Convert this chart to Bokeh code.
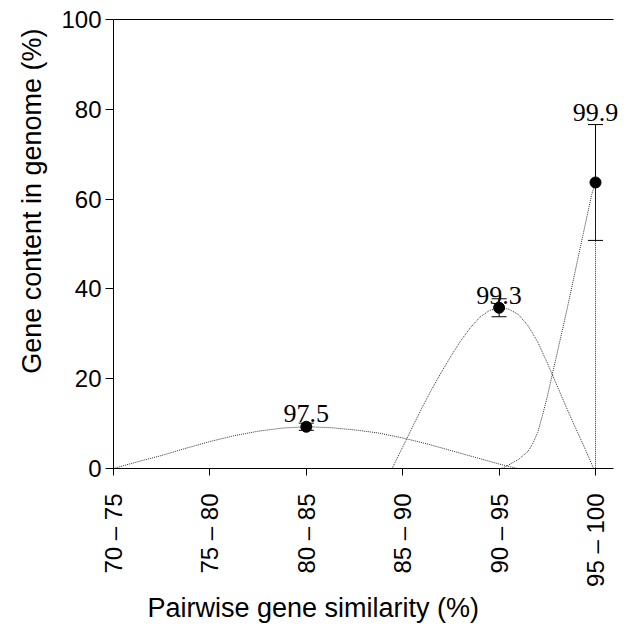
import math
from bokeh.plotting import figure
from bokeh.models import (ColumnDataSource, Whisker, TeeHead, Label, Title,
                          FixedTicker, LinearAxis, Range1d)
from bokeh.embed import file_html
from bokeh.resources import INLINE

# ---- data ----
categories = ["70 – 75", "75 – 80", "80 – 85", "85 – 90", "90 – 95", "95 – 100"]

point_cat = ["80 – 85", "90 – 95", "95 – 100"]
point_mean = [9.3, 35.8, 63.7]
point_err = [0.8, 2.0, 12.9]
point_label = ["97.5", "99.3", "99.9"]

y_ticks = [0, 20, 40, 60, 80, 100]

# distribution curves (x in category units, y in %)
curve_a_x = [0.0, 0.25, 0.5, 0.75, 1.0, 1.25, 1.5, 1.75, 2.0, 2.25, 2.5, 2.75,
             3.0, 3.25, 3.5, 3.75, 4.0, 4.19]
curve_a_y = [0.0, 1.5, 2.9, 4.5, 6.0, 7.3, 8.3, 9.0, 9.3, 9.1, 8.6, 7.9,
             6.8, 5.5, 4.0, 2.5, 1.0, 0.0]

curve_b_x = [2.89, 3.0, 3.1, 3.2, 3.3, 3.4, 3.5, 3.6, 3.7, 3.8, 3.9, 4.0,
             4.1, 4.2, 4.3, 4.4, 4.5, 4.6, 4.7, 4.8, 4.9, 4.98]
curve_b_y = [0.0, 4.8, 9.2, 13.5, 17.6, 21.4, 25.0, 28.4, 31.3, 33.7, 35.2, 35.8,
             35.5, 34.3, 31.8, 28.2, 23.5, 18.5, 13.5, 8.7, 4.0, 0.0]

curve_c_x = [4.03, 4.1, 4.2, 4.3, 4.35, 4.4, 4.45, 4.5, 4.55, 4.6, 4.7, 4.8, 4.9,
             4.96, 5.0, 5.0]
curve_c_y = [0.0, 0.8, 2.0, 3.8, 5.6, 8.0, 11.8, 16.0, 20.8, 25.5, 35.0, 45.0, 55.0,
             61.0, 63.7, 0.0]

# ---- styling / layout ----
label_gap_px = [10, 3, 12]
SANS = "Liberation Sans"
SERIF = "Liberation Serif"
PX_PER_CAT = 96.4
FRAME_LEFT = 113
AXIS_RIGHT = 613
W = 626
H = 626

pos = [categories.index(c) for c in point_cat]
upper = [m + e for m, e in zip(point_mean, point_err)]
lower = [m - e for m, e in zip(point_mean, point_err)]
src = ColumnDataSource(dict(x=pos, y=point_mean, upper=upper, lower=lower))

x_end = (W - FRAME_LEFT) / PX_PER_CAT
axis_end = (AXIS_RIGHT - FRAME_LEFT) / PX_PER_CAT

p = figure(width=W, height=H, output_backend="svg", toolbar_location=None,
           x_range=Range1d(0, x_end), y_range=Range1d(0, 100),
           min_border_left=FRAME_LEFT, min_border_right=0,
           min_border_top=19, min_border_bottom=H - 468)
p.xgrid.visible = False
p.ygrid.visible = False
p.outline_line_color = None
p.background_fill_color = "white"
p.border_fill_color = "white"

# curves
for cx, cy in [(curve_a_x, curve_a_y), (curve_b_x, curve_b_y), (curve_c_x, curve_c_y)]:
    p.line(cx, cy, line_color="#333333", line_width=1, line_dash="1 1")

# error bars
wh = Whisker(source=src, base="x", upper="upper", lower="lower",
             line_color="black", line_width=1,
             upper_head=TeeHead(size=15, line_color="black", line_width=1),
             lower_head=TeeHead(size=15, line_color="black", line_width=1))
p.add_layout(wh)

p.scatter("x", "y", source=src, size=11, fill_color="black", line_color="black")

# value labels
for i in range(len(point_label)):
    p.add_layout(Label(x=pos[i], y=upper[i], text=point_label[i],
                       y_offset=label_gap_px[i], text_align="center",
                       text_baseline="alphabetic", text_font=SERIF,
                       text_font_size="26px", text_color="black"))

# axes
xa = p.xaxis[0]
xa.bounds = (0, axis_end)
xa.ticker = FixedTicker(ticks=list(range(len(categories))))
xa.major_label_overrides = {i: c for i, c in enumerate(categories)}
xa.major_label_orientation = math.pi / 2
xa.major_label_text_font = SANS
xa.major_label_text_font_size = "24px"
xa.major_label_text_color = "black"
xa.major_label_standoff = 18
xa.major_tick_out = 7
xa.major_tick_in = 0
xa.minor_tick_line_color = None
xa.axis_line_color = "black"
xa.major_tick_line_color = "black"

ya = p.yaxis[0]
ya.ticker = FixedTicker(ticks=y_ticks)
ya.major_label_text_font = SANS
ya.major_label_text_font_size = "24px"
ya.major_label_text_color = "black"
ya.major_label_standoff = 4
ya.major_tick_out = 8
ya.major_tick_in = 0
ya.minor_tick_line_color = None
ya.axis_line_color = "black"
ya.major_tick_line_color = "black"

top = LinearAxis(ticker=FixedTicker(ticks=[]), bounds=(0, axis_end),
                 major_tick_line_color=None, minor_tick_line_color=None,
                 major_tick_out=0, major_tick_in=0, axis_line_color="black")
p.add_layout(top, "above")

# axis titles
p.add_layout(Title(text="Pairwise gene similarity (%)", align="left", offset=34,
                   standoff=3,
                   text_font=SANS, text_font_size="27px", text_font_style="normal",
                   text_color="black"), "below")
p.add_layout(Title(text="Gene content in genome (%)", align="right", offset=9,
                   standoff=24,
                   text_font=SANS, text_font_size="27px", text_font_style="normal",
                   text_color="black"), "left")

open("out.html", "w").write(file_html(p, INLINE))
